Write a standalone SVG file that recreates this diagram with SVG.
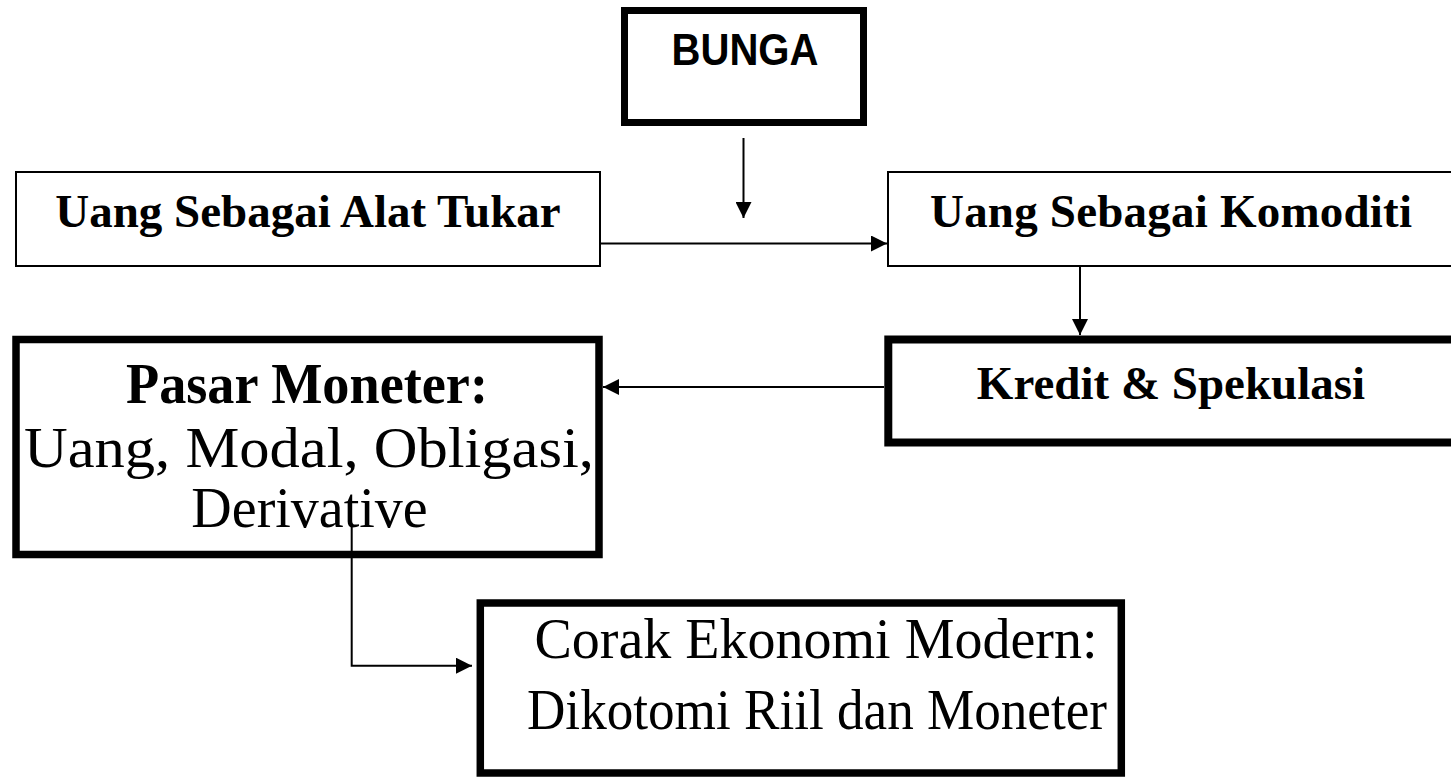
<svg xmlns="http://www.w3.org/2000/svg" width="1451" height="778" viewBox="0 0 1451 778">
<defs>
<style>
.box{fill:#fff;stroke:#000;stroke-width:2}
.thick{fill:#fff;stroke:#000;stroke-width:7.5}
.tb{font-family:"Liberation Serif","Times New Roman",serif;font-weight:bold;font-size:47px;fill:#000;text-anchor:middle}
.tr{font-family:"Liberation Serif","Times New Roman",serif;font-size:56px;fill:#000;text-anchor:middle}
.conn{fill:none;stroke:#000;stroke-width:2}
</style>
<marker id="ah" markerUnits="userSpaceOnUse" markerWidth="16" markerHeight="16" viewBox="0 0 16 16" refX="16" refY="8" orient="auto">
<path d="M0,0 L16,8 L0,16 Z" fill="#000"/>
</marker>
</defs>
<rect width="1451" height="778" fill="#fff"/>
<g id="connectors">
<path class="conn" d="M743.5,138 V218" marker-end="url(#ah)"/>
<path class="conn" d="M600,243.5 H887" marker-end="url(#ah)"/>
<path class="conn" d="M1080,267 V335" marker-end="url(#ah)"/>
<path class="conn" d="M884,387 H603" marker-end="url(#ah)"/>
</g>
<g id="bunga">
<rect x="624.5" y="10.5" width="239" height="112" fill="#fff" stroke="#000" stroke-width="7"/>
<text x="745" y="65" font-family="'Liberation Sans',Arial,sans-serif" font-weight="bold" font-size="45" text-anchor="middle" textLength="147" lengthAdjust="spacingAndGlyphs">BUNGA</text>
</g>
<g id="alat-tukar">
<rect class="box" x="16" y="172" width="584" height="94"/>
<text class="tb" x="308" y="227">Uang Sebagai Alat Tukar</text>
</g>
<g id="komoditi">
<rect class="box" x="888" y="172" width="580" height="94"/>
<text class="tb" x="1171" y="227" textLength="482">Uang Sebagai Komoditi</text>
</g>
<g id="kredit">
<rect x="888.3" y="339.5" width="580" height="103" fill="#fff" stroke="#000" stroke-width="8"/>
<text class="tb" x="1171" y="399">Kredit &amp; Spekulasi</text>
</g>
<g id="pasar">
<rect class="thick" x="16" y="339.5" width="583" height="215"/>
<text class="tr" x="307" y="403" font-weight="bold" textLength="362" lengthAdjust="spacingAndGlyphs">Pasar Moneter:</text>
<text class="tr" x="309" y="467" font-size="57" textLength="570" lengthAdjust="spacingAndGlyphs">Uang, Modal, Obligasi,</text>
<text class="tr" x="309.5" y="527" font-size="57">Derivative</text>
</g>
<g id="connector-pasar-corak">
<path class="conn" d="M351.7,527 V665.7 H472" marker-end="url(#ah)"/>
</g>
<g id="corak">
<rect class="thick" x="480.3" y="603" width="641" height="170"/>
<text class="tr" x="816" y="658" font-size="54" textLength="563">Corak Ekonomi Modern:</text>
<text class="tr" x="817" y="729" font-size="54" textLength="580" lengthAdjust="spacingAndGlyphs">Dikotomi Riil dan Moneter</text>
</g>
</svg>
